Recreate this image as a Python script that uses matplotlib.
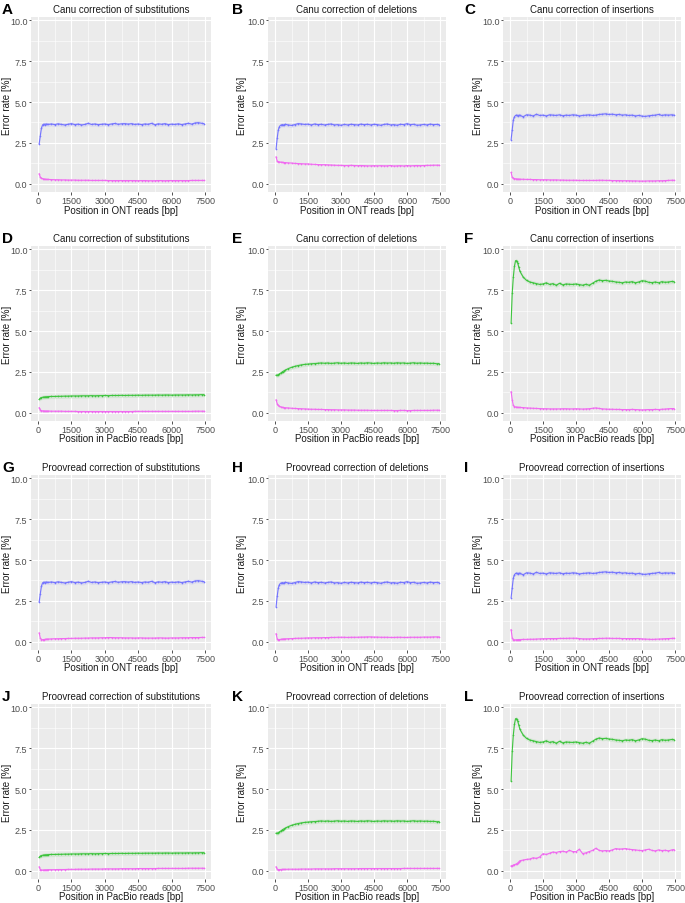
import matplotlib
matplotlib.use("Agg")
import matplotlib.pyplot as plt
import numpy as np
from matplotlib.ticker import MultipleLocator

plt.rcParams['font.family'] = ['Liberation Sans', 'DejaVu Sans']

# ---------------- data ----------------
positions = [50, 100, 150, 200, 250, 300, 350, 400, 450,
             600, 750, 900, 1050, 1200, 1350, 1500, 1650, 1800, 1950,
             2100, 2250, 2400, 2550, 2700, 2850, 3000, 3150, 3300, 3450,
             3600, 3750, 3900, 4050, 4200, 4350, 4500, 4650, 4800, 4950,
             5100, 5250, 5400, 5550, 5700, 5850, 6000, 6150, 6300, 6450,
             6600, 6750, 6900, 7050, 7200, 7350, 7450]

# raw ONT error rates (blue)
ont_sub_raw = [2.45, 2.95, 3.40, 3.60, 3.65, 3.62, 3.66, 3.64, 3.63,
               3.66, 3.62, 3.67, 3.63, 3.60, 3.64, 3.68, 3.62, 3.65, 3.60,
               3.63, 3.70, 3.63, 3.66, 3.62, 3.64, 3.66, 3.62, 3.66, 3.69,
               3.64, 3.67, 3.68, 3.65, 3.68, 3.63, 3.66, 3.62, 3.66, 3.64,
               3.70, 3.61, 3.67, 3.64, 3.68, 3.62, 3.65, 3.63, 3.67, 3.62,
               3.66, 3.70, 3.65, 3.72, 3.74, 3.70, 3.68]
ont_del_raw = [2.15, 2.80, 3.30, 3.50, 3.58, 3.60, 3.62, 3.58, 3.64,
               3.60, 3.57, 3.62, 3.68, 3.66, 3.63, 3.65, 3.60, 3.66, 3.62,
               3.64, 3.60, 3.63, 3.66, 3.60, 3.62, 3.58, 3.63, 3.60, 3.64,
               3.62, 3.60, 3.65, 3.62, 3.64, 3.60, 3.64, 3.62, 3.58, 3.63,
               3.66, 3.60, 3.62, 3.58, 3.64, 3.62, 3.68, 3.62, 3.64, 3.58,
               3.60, 3.63, 3.60, 3.65, 3.62, 3.63, 3.62]
ont_ins_raw = [2.70, 3.30, 3.90, 4.10, 4.18, 4.20, 4.15, 4.20, 4.18,
               4.10, 4.22, 4.20, 4.15, 4.25, 4.18, 4.20, 4.15, 4.22, 4.20,
               4.18, 4.22, 4.16, 4.20, 4.18, 4.22, 4.20, 4.15, 4.18, 4.20,
               4.22, 4.18, 4.20, 4.24, 4.26, 4.28, 4.24, 4.26, 4.22, 4.24,
               4.20, 4.22, 4.18, 4.20, 4.15, 4.18, 4.14, 4.12, 4.16, 4.18,
               4.20, 4.24, 4.18, 4.22, 4.20, 4.22, 4.20]

# raw PacBio error rates (green)
pb_sub_raw = [0.82, 0.90, 0.93, 0.95, 0.96, 0.97, 0.98, 0.98, 0.99,
              1.00, 1.00, 1.01, 1.01, 1.02, 1.02, 1.03, 1.03, 1.03, 1.04,
              1.04, 1.04, 1.05, 1.04, 1.05, 1.05, 1.06, 1.05, 1.06, 1.06,
              1.06, 1.07, 1.06, 1.07, 1.07, 1.07, 1.08, 1.07, 1.08, 1.08,
              1.08, 1.08, 1.09, 1.08, 1.09, 1.09, 1.08, 1.09, 1.09, 1.09,
              1.09, 1.10, 1.09, 1.10, 1.10, 1.11, 1.11]
pb_del_raw = [2.30, 2.30, 2.33, 2.38, 2.42, 2.47, 2.52, 2.56, 2.60,
              2.70, 2.78, 2.84, 2.89, 2.93, 2.96, 2.98, 3.00, 3.01, 3.03,
              3.05, 3.03, 3.05, 3.02, 3.04, 3.06, 3.03, 3.05, 3.02, 3.05,
              3.04, 3.02, 3.05, 3.03, 3.06, 3.04, 3.02, 3.05, 3.03, 3.06,
              3.04, 3.05, 3.03, 3.06, 3.04, 3.05, 3.02, 3.04, 3.06, 3.03,
              3.05, 3.03, 3.04, 3.02, 3.03, 3.00, 3.01]
pb_ins_raw = [5.50, 7.30, 8.30, 8.95, 9.30, 9.30, 9.15, 8.90, 8.65,
              8.30, 8.10, 8.00, 7.95, 7.90, 7.85, 7.88, 7.95, 7.85, 7.90,
              7.80, 7.92, 7.82, 7.88, 7.86, 7.85, 7.88, 7.84, 7.80, 7.86,
              7.80, 7.92, 8.05, 8.12, 8.08, 8.10, 8.06, 8.04, 8.00, 7.98,
              7.95, 8.00, 7.98, 8.02, 7.95, 8.00, 8.08, 8.05, 7.98, 7.96,
              8.00, 7.95, 8.02, 7.98, 8.00, 8.03, 8.02]

# corrected error rates (magenta)
canu_ont_sub = [0.62, 0.40, 0.35, 0.32, 0.30, 0.29, 0.28, 0.27, 0.27,
                0.26, 0.25, 0.25, 0.24, 0.24, 0.23, 0.23, 0.23, 0.22, 0.22,
                0.22, 0.22, 0.21, 0.21, 0.21, 0.21, 0.21, 0.20, 0.20, 0.20,
                0.20, 0.20, 0.20, 0.20, 0.20, 0.20, 0.19, 0.20, 0.20, 0.19,
                0.19, 0.19, 0.20, 0.20, 0.19, 0.20, 0.20, 0.20, 0.20, 0.20,
                0.20, 0.20, 0.21, 0.21, 0.21, 0.21, 0.21]
canu_ont_del = [1.65, 1.38, 1.36, 1.34, 1.33, 1.32, 1.31, 1.30, 1.30,
                1.28, 1.27, 1.25, 1.24, 1.23, 1.22, 1.22, 1.20, 1.19, 1.18,
                1.17, 1.17, 1.16, 1.15, 1.14, 1.13, 1.13, 1.12, 1.12, 1.13,
                1.12, 1.11, 1.12, 1.11, 1.10, 1.10, 1.11, 1.10, 1.11, 1.10,
                1.10, 1.12, 1.09, 1.10, 1.11, 1.09, 1.12, 1.10, 1.11, 1.12,
                1.11, 1.12, 1.13, 1.13, 1.14, 1.14, 1.14]
canu_ont_ins = [0.70, 0.40, 0.35, 0.32, 0.31, 0.30, 0.29, 0.29, 0.28,
                0.28, 0.27, 0.27, 0.26, 0.26, 0.25, 0.25, 0.25, 0.24, 0.24,
                0.24, 0.23, 0.23, 0.22, 0.22, 0.22, 0.22, 0.21, 0.21, 0.21,
                0.21, 0.21, 0.21, 0.22, 0.22, 0.21, 0.21, 0.20, 0.20, 0.20,
                0.19, 0.19, 0.19, 0.18, 0.18, 0.17, 0.17, 0.17, 0.18, 0.18,
                0.18, 0.19, 0.19, 0.20, 0.21, 0.22, 0.22]
canu_pb_sub = [0.32, 0.18, 0.13, 0.12, 0.12, 0.11, 0.11, 0.11, 0.11,
               0.10, 0.10, 0.10, 0.10, 0.09, 0.09, 0.09, 0.09, 0.08, 0.08,
               0.08, 0.08, 0.08, 0.08, 0.08, 0.08, 0.08, 0.08, 0.08, 0.08,
               0.08, 0.08, 0.08, 0.08, 0.08, 0.09, 0.09, 0.09, 0.09, 0.09,
               0.09, 0.09, 0.09, 0.09, 0.09, 0.09, 0.09, 0.09, 0.09, 0.09,
               0.09, 0.09, 0.09, 0.10, 0.10, 0.10, 0.10]
canu_pb_del = [0.80, 0.55, 0.45, 0.40, 0.37, 0.35, 0.33, 0.32, 0.31,
               0.30, 0.28, 0.27, 0.26, 0.25, 0.24, 0.23, 0.22, 0.22, 0.21,
               0.21, 0.20, 0.20, 0.19, 0.19, 0.18, 0.18, 0.18, 0.17, 0.17,
               0.17, 0.16, 0.16, 0.16, 0.16, 0.15, 0.15, 0.15, 0.15, 0.15,
               0.15, 0.15, 0.14, 0.14, 0.15, 0.15, 0.14, 0.14, 0.15, 0.15,
               0.15, 0.15, 0.15, 0.15, 0.16, 0.16, 0.16]
canu_pb_ins = [1.30, 0.80, 0.45, 0.38, 0.36, 0.35, 0.34, 0.33, 0.33,
               0.32, 0.30, 0.29, 0.28, 0.27, 0.26, 0.25, 0.25, 0.24, 0.24,
               0.24, 0.24, 0.25, 0.25, 0.24, 0.24, 0.25, 0.24, 0.23, 0.24,
               0.25, 0.28, 0.30, 0.27, 0.24, 0.23, 0.22, 0.22, 0.21, 0.21,
               0.20, 0.20, 0.20, 0.21, 0.20, 0.19, 0.18, 0.19, 0.20, 0.20,
               0.21, 0.20, 0.22, 0.23, 0.25, 0.26, 0.26]
proo_ont_sub = [0.55, 0.22, 0.14, 0.13, 0.14, 0.15, 0.16, 0.17, 0.17,
                0.18, 0.19, 0.19, 0.20, 0.20, 0.21, 0.21, 0.22, 0.22, 0.22,
                0.23, 0.23, 0.24, 0.24, 0.24, 0.25, 0.25, 0.26, 0.26, 0.25,
                0.25, 0.25, 0.24, 0.24, 0.24, 0.23, 0.24, 0.24, 0.23, 0.23,
                0.23, 0.23, 0.24, 0.24, 0.23, 0.23, 0.24, 0.24, 0.24, 0.25,
                0.25, 0.25, 0.26, 0.26, 0.26, 0.27, 0.27]
proo_ont_del = [0.50, 0.18, 0.14, 0.14, 0.15, 0.16, 0.17, 0.18, 0.18,
                0.19, 0.20, 0.21, 0.22, 0.22, 0.23, 0.24, 0.24, 0.25, 0.25,
                0.25, 0.26, 0.26, 0.27, 0.27, 0.28, 0.28, 0.28, 0.27, 0.28,
                0.28, 0.28, 0.29, 0.29, 0.30, 0.30, 0.29, 0.29, 0.28, 0.28,
                0.28, 0.27, 0.27, 0.28, 0.28, 0.27, 0.27, 0.28, 0.28, 0.28,
                0.28, 0.29, 0.29, 0.29, 0.30, 0.30, 0.30]
proo_ont_ins = [0.75, 0.25, 0.13, 0.12, 0.12, 0.13, 0.13, 0.14, 0.14,
                0.15, 0.15, 0.16, 0.16, 0.17, 0.18, 0.19, 0.19, 0.20, 0.20,
                0.20, 0.21, 0.21, 0.21, 0.22, 0.22, 0.22, 0.20, 0.18, 0.18,
                0.18, 0.19, 0.20, 0.21, 0.21, 0.22, 0.22, 0.21, 0.21, 0.21,
                0.20, 0.20, 0.20, 0.20, 0.20, 0.20, 0.18, 0.17, 0.16, 0.15,
                0.16, 0.17, 0.18, 0.19, 0.20, 0.21, 0.22]
proo_pb_sub = [0.25, 0.08, 0.05, 0.05, 0.05, 0.06, 0.06, 0.06, 0.07,
               0.07, 0.07, 0.08, 0.08, 0.08, 0.09, 0.09, 0.09, 0.10, 0.10,
               0.10, 0.10, 0.11, 0.11, 0.11, 0.11, 0.12, 0.12, 0.12, 0.12,
               0.12, 0.13, 0.13, 0.13, 0.13, 0.13, 0.14, 0.14, 0.14, 0.14,
               0.14, 0.14, 0.15, 0.15, 0.15, 0.15, 0.15, 0.15, 0.15, 0.15,
               0.15, 0.16, 0.16, 0.16, 0.16, 0.16, 0.16]
proo_pb_del = [0.25, 0.10, 0.08, 0.08, 0.08, 0.09, 0.09, 0.09, 0.09,
               0.10, 0.10, 0.10, 0.10, 0.11, 0.11, 0.11, 0.11, 0.12, 0.12,
               0.12, 0.12, 0.12, 0.12, 0.13, 0.13, 0.13, 0.13, 0.13, 0.13,
               0.13, 0.13, 0.14, 0.14, 0.14, 0.14, 0.14, 0.14, 0.14, 0.14,
               0.14, 0.14, 0.14, 0.14, 0.14, 0.15, 0.15, 0.15, 0.15, 0.15,
               0.15, 0.15, 0.15, 0.15, 0.15, 0.15, 0.15]
proo_pb_ins = [0.30, 0.32, 0.35, 0.38, 0.40, 0.43, 0.48, 0.55, 0.62,
               0.66, 0.70, 0.72, 0.80, 0.76, 0.85, 1.05, 1.00, 1.08, 1.15,
               1.12, 1.18, 1.20, 1.15, 1.25, 1.18, 1.17, 1.32, 1.05, 1.10,
               1.18, 1.25, 1.38, 1.25, 1.22, 1.24, 1.22, 1.28, 1.36, 1.33,
               1.34, 1.36, 1.32, 1.30, 1.28, 1.25, 1.24, 1.28, 1.32, 1.25,
               1.22, 1.28, 1.24, 1.26, 1.22, 1.28, 1.30]

panel_letters = ["A", "B", "C", "D", "E", "F", "G", "H", "I", "J", "K", "L"]
panel_titles = ["Canu correction of substitutions", "Canu correction of deletions",
                "Canu correction of insertions",
                "Canu correction of substitutions", "Canu correction of deletions",
                "Canu correction of insertions",
                "Proovread correction of substitutions", "Proovread correction of deletions",
                "Proovread correction of insertions",
                "Proovread correction of substitutions", "Proovread correction of deletions",
                "Proovread correction of insertions"]
x_labels = ["Position in ONT reads [bp]", "Position in PacBio reads [bp]"]
y_label = "Error rate [%]"
x_ticks = [0, 1500, 3000, 4500, 6000, 7500]
y_ticks = [0.0, 2.5, 5.0, 7.5, 10.0]

raw_series = [ont_sub_raw, ont_del_raw, ont_ins_raw,
              pb_sub_raw, pb_del_raw, pb_ins_raw,
              ont_sub_raw, ont_del_raw, ont_ins_raw,
              pb_sub_raw, pb_del_raw, pb_ins_raw]
corr_series = [canu_ont_sub, canu_ont_del, canu_ont_ins,
               canu_pb_sub, canu_pb_del, canu_pb_ins,
               proo_ont_sub, proo_ont_del, proo_ont_ins,
               proo_pb_sub, proo_pb_del, proo_pb_ins]

# ---------------- styling ----------------
W, H = 685, 904
fig = plt.figure(figsize=(W / 100, H / 100), dpi=100)
BLUE = "#7474ff"
GREEN = "#3ec43e"
MAGENTA = "#f06af0"
PANEL_BG = "#EBEBEB"

col_left = [31, 268, 503]
col_w = [180, 178, 178]
row_top = [18, 247, 476, 705]
row_h = 175
letter_x = [2, 232, 464]
ylabel_px = [7, 242, 478]

for i in range(12):
    r, c = divmod(i, 3)
    left = col_left[c] / W
    bottom = 1 - (row_top[r] + row_h) / H
    ax = fig.add_axes([left, bottom, col_w[c] / W, row_h / H])
    ax.set_facecolor(PANEL_BG)
    for s in ax.spines.values():
        s.set_visible(False)
    ax.set_xlim(-318, 7768)
    ax.set_ylim(-0.5, 10.2)
    ax.xaxis.set_minor_locator(MultipleLocator(750))
    ax.yaxis.set_minor_locator(MultipleLocator(1.25))
    ax.set_xticks(x_ticks)
    ax.set_yticks(y_ticks)
    ax.set_yticklabels([f"{v:.1f}" for v in y_ticks])
    ax.grid(which="major", color="white", linewidth=0.8)
    ax.grid(which="minor", color="white", linewidth=0.4)
    ax.set_axisbelow(True)
    ax.tick_params(which="major", length=1.8, width=0.6, color="#333333",
                   labelsize=6.5, labelcolor="#4D4D4D", pad=0.8)
    ax.tick_params(which="minor", length=0)

    raw = np.array(raw_series[i])
    corr = np.array(corr_series[i])
    raw_color = BLUE if r % 2 == 0 else GREEN
    ax.fill_between(positions, raw - 0.13, raw + 0.13, color=raw_color, alpha=0.13, lw=0)
    ax.fill_between(positions, corr - 0.05, corr + 0.05, color=MAGENTA, alpha=0.13, lw=0)
    ax.plot(positions, raw, color=raw_color, lw=0.8, marker="o", ms=1.2, mew=0)
    ax.plot(positions, corr, color=MAGENTA, lw=0.8, marker="o", ms=1.2, mew=0)

    ax.set_title(panel_titles[i], fontsize=7, color="#1a1a1a", pad=3.5)
    ax.set_xlabel(x_labels[r % 2], fontsize=7, color="#1a1a1a")
    ax.xaxis.set_label_coords(0.5, -17.5 / row_h)
    ax.xaxis.label.set_va("center")
    ax.set_ylabel(y_label, fontsize=7, color="#1a1a1a")
    ax.yaxis.set_label_coords((ylabel_px[c] - col_left[c]) / col_w[c], 0.5)
    ax.yaxis.label.set_va("center")

    fig.text(letter_x[c] / W, 1 - (row_top[r] - 8) / H, panel_letters[i],
             fontsize=11, fontweight="bold", ha="left", va="center", color="black")

fig.savefig("out.png", dpi=100)
